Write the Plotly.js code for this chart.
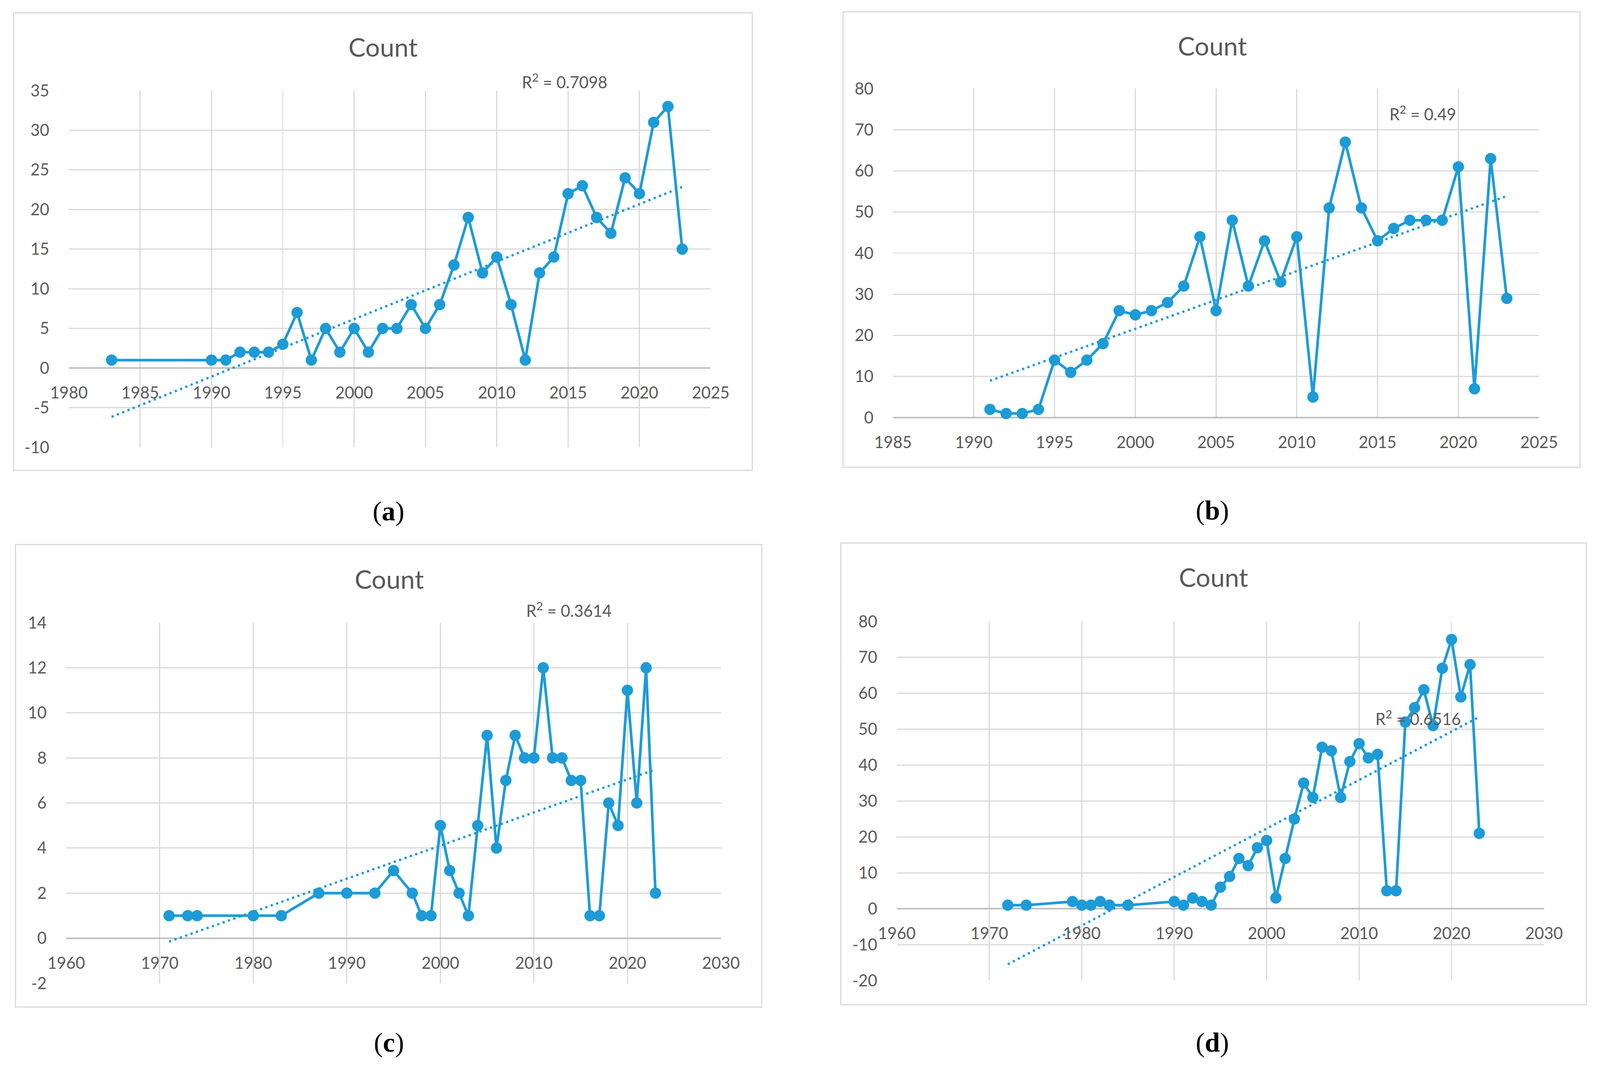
<!DOCTYPE html>
<html>
<head>
<meta charset="utf-8">
<script src="https://cdn.plot.ly/plotly-3.0.1.min.js"></script>
<style>
  html, body { margin: 0; padding: 0; background: #ffffff; overflow: hidden; }
  #chart { width: 100vw; height: 100vh; }
</style>
</head>
<body>
<div id="chart"></div>
<script>
// ---------- data ----------
const yearsA = [1983, 1990, 1991, 1992, 1993, 1994, 1995, 1996, 1997, 1998, 1999, 2000, 2001, 2002, 2003, 2004, 2005, 2006, 2007, 2008, 2009, 2010, 2011, 2012, 2013, 2014, 2015, 2016, 2017, 2018, 2019, 2020, 2021, 2022, 2023];
const countsA = [1, 1, 1, 2, 2, 2, 3, 7, 1, 5, 2, 5, 2, 5, 5, 8, 5, 8, 13, 19, 12, 14, 8, 1, 12, 14, 22, 23, 19, 17, 24, 22, 31, 33, 15];

const yearsB = [1991, 1992, 1993, 1994, 1995, 1996, 1997, 1998, 1999, 2000, 2001, 2002, 2003, 2004, 2005, 2006, 2007, 2008, 2009, 2010, 2011, 2012, 2013, 2014, 2015, 2016, 2017, 2018, 2019, 2020, 2021, 2022, 2023];
const countsB = [2, 1, 1, 2, 14, 11, 14, 18, 26, 25, 26, 28, 32, 44, 26, 48, 32, 43, 33, 44, 5, 51, 67, 51, 43, 46, 48, 48, 48, 61, 7, 63, 29];

const yearsC = [1971, 1973, 1974, 1980, 1983, 1987, 1990, 1993, 1995, 1997, 1998, 1999, 2000, 2001, 2002, 2003, 2004, 2005, 2006, 2007, 2008, 2009, 2010, 2011, 2012, 2013, 2014, 2015, 2016, 2017, 2018, 2019, 2020, 2021, 2022, 2023];
const countsC = [1, 1, 1, 1, 1, 2, 2, 2, 3, 2, 1, 1, 5, 3, 2, 1, 5, 9, 4, 7, 9, 8, 8, 12, 8, 8, 7, 7, 1, 1, 6, 5, 11, 6, 12, 2];

const yearsD = [1972, 1974, 1979, 1980, 1981, 1982, 1983, 1985, 1990, 1991, 1992, 1993, 1994, 1995, 1996, 1997, 1998, 1999, 2000, 2001, 2002, 2003, 2004, 2005, 2006, 2007, 2008, 2009, 2010, 2011, 2012, 2013, 2014, 2015, 2016, 2017, 2018, 2019, 2020, 2021, 2022, 2023];
const countsD = [1, 1, 2, 1, 1, 2, 1, 1, 2, 1, 3, 2, 1, 6, 9, 14, 12, 17, 19, 3, 14, 25, 35, 31, 45, 44, 31, 41, 46, 42, 43, 5, 5, 52, 56, 61, 51, 67, 75, 59, 68, 21];

// tick values (labels are written with a plain hyphen minus, as in the original)
const xTicksA = [1980, 1985, 1990, 1995, 2000, 2005, 2010, 2015, 2020, 2025];
const yTicksA = [-10, -5, 0, 5, 10, 15, 20, 25, 30, 35];
const xTicksB = [1985, 1990, 1995, 2000, 2005, 2010, 2015, 2020, 2025];
const yTicksB = [0, 10, 20, 30, 40, 50, 60, 70, 80];
const xTicksC = [1960, 1970, 1980, 1990, 2000, 2010, 2020, 2030];
const yTicksC = [-2, 0, 2, 4, 6, 8, 10, 12, 14];
const xTicksD = [1960, 1970, 1980, 1990, 2000, 2010, 2020, 2030];
const yTicksD = [-20, -10, 0, 10, 20, 30, 40, 50, 60, 70, 80];

const chartTitle = "Count";
const r2Labels = ["R<sup>2</sup> = 0.7098", "R<sup>2</sup> = 0.49", "R<sup>2</sup> = 0.3614", "R<sup>2</sup> = 0.6516"];
const panelLetters = ["a", "b", "c", "d"];

// ---------- geometry, given in pixels of a 4230x2739 page, scaled to the real viewport ----------
const REF_W = 4230, REF_H = 2739;
const W = window.innerWidth || REF_W;
const H = window.innerHeight || REF_H;
const s = Math.min(W / REF_W, H / REF_H);

const panels = [
  { years: yearsA, counts: countsA, xt: xTicksA, yt: yTicksA, plot: [182, 1879, 232, 1145],
    box: [36, 1989, 33, 1204], title: [1013, 119], r2: [1493, 208], label: [1027, 1308] },
  { years: yearsB, counts: countsB, xt: xTicksB, yt: yTicksB, plot: [2361, 4069, 227, 1069],
    box: [2229, 4177, 30, 1196], title: [3205, 116], r2: [3762, 289], label: [3205, 1306] },
  { years: yearsC, counts: countsC, xt: xTicksC, yt: yTicksC, plot: [175, 1906, 1594, 2517],
    box: [41, 2014, 1394, 2578], title: [1029, 1481], r2: [1504, 1560], label: [1028, 2668] },
  { years: yearsD, counts: countsD, xt: xTicksD, yt: yTicksD, plot: [2371, 4082, 1591, 2510],
    box: [2223, 4194, 1390, 2572], title: [3208, 1477], r2: [3749, 1837], label: [3205, 2668] }
];

const BLUE = "rgb(29,155,215)";
const GRID = "#d9d9d9";
const TXT = "#595959";
const FONT = "Lato, 'Open Sans', 'Liberation Sans', sans-serif";
const CLEAR = "rgba(0,0,0,0)";

function linfit(xs, ys) {
  const n = xs.length;
  const mx = xs.reduce((a, b) => a + b, 0) / n;
  const my = ys.reduce((a, b) => a + b, 0) / n;
  let sxy = 0, sxx = 0;
  for (let i = 0; i < n; i++) { sxy += (xs[i] - mx) * (ys[i] - my); sxx += (xs[i] - mx) * (xs[i] - mx); }
  const b = sxy / sxx, a = my - b * mx;
  const x0 = Math.min(...xs), x1 = Math.max(...xs);
  return { x: [x0, x1], y: [a + b * x0, a + b * x1] };
}

const px = X => X / REF_W;
const py = Y => 1 - Y / REF_H;

const data = [];
const layout = {
  width: W, height: H,
  margin: { l: 0, r: 0, t: 0, b: 0, pad: 0 },
  paper_bgcolor: "#ffffff",
  plot_bgcolor: "#ffffff",
  showlegend: false,
  font: { family: FONT, color: TXT },
  shapes: [],
  annotations: []
};

panels.forEach((p, i) => {
  const k = i === 0 ? "" : String(i + 1);
  const xa = "x" + k, ya = "y" + k;
  data.push({
    type: "scatter", mode: "lines+markers",
    x: p.years, y: p.counts, xaxis: xa, yaxis: ya,
    line: { color: BLUE, width: 7 * s },
    marker: { color: BLUE, size: 30 * s },
    cliponaxis: false, hoverinfo: "skip"
  });
  const t = linfit(p.years, p.counts);
  data.push({
    type: "scatter", mode: "lines",
    x: t.x, y: t.y, xaxis: xa, yaxis: ya,
    line: { color: BLUE, width: 6 * s, dash: (6 * s) + "px," + (9 * s) + "px" },
    cliponaxis: false, hoverinfo: "skip"
  });

  const xr = [p.xt[0], p.xt[p.xt.length - 1]];
  const yr = [p.yt[0], p.yt[p.yt.length - 1]];
  const yDom = [py(p.plot[3]), py(p.plot[2])];
  const zeroPos = yDom[0] + (0 - yr[0]) / (yr[1] - yr[0]) * (yDom[1] - yDom[0]);

  layout["xaxis" + k] = {
    domain: [px(p.plot[0]), px(p.plot[1])],
    range: xr, tickmode: "array", tickvals: p.xt, ticktext: p.xt.map(String),
    anchor: "free", position: zeroPos, side: "bottom",
    showgrid: true, gridcolor: GRID, gridwidth: 3 * s,
    zeroline: false, showline: false,
    ticks: "outside", ticklen: 28 * s, tickcolor: CLEAR, tickwidth: 1,
    tickfont: { family: FONT, size: 43 * s, color: TXT },
    fixedrange: true
  };
  layout["yaxis" + k] = {
    domain: yDom,
    range: yr, tickmode: "array", tickvals: p.yt, ticktext: p.yt.map(String),
    anchor: xa,
    showgrid: true, gridcolor: GRID, gridwidth: 3 * s,
    zeroline: true, zerolinecolor: "#bfbfbf", zerolinewidth: 4 * s,
    showline: false,
    ticks: "outside", ticklen: 42 * s, tickcolor: CLEAR, tickwidth: 1,
    tickfont: { family: FONT, size: 43 * s, color: TXT },
    fixedrange: true
  };

  layout.shapes.push({
    type: "rect", xref: "paper", yref: "paper",
    x0: px(p.box[0]), x1: px(p.box[1]), y0: py(p.box[3]), y1: py(p.box[2]),
    line: { color: GRID, width: 3 * s }, fillcolor: CLEAR, layer: "below"
  });

  layout.annotations.push({
    xref: "paper", yref: "paper", x: px(p.title[0]), y: py(p.title[1]),
    xanchor: "center", yanchor: "middle", showarrow: false,
    text: chartTitle, font: { family: FONT, size: 68 * s, color: TXT }
  });
  layout.annotations.push({
    xref: "paper", yref: "paper", x: px(p.r2[0]), y: py(p.r2[1]),
    xanchor: "center", yanchor: "middle", showarrow: false,
    text: r2Labels[i], font: { family: FONT, size: 43 * s, color: TXT }
  });
  layout.annotations.push({
    xref: "paper", yref: "paper", x: px(p.label[0]), y: py(p.label[1]),
    xanchor: "center", yanchor: "middle", showarrow: false,
    text: "(<b>" + panelLetters[i] + "</b>)",
    font: { family: "'Liberation Serif', 'DejaVu Serif', serif", size: 72 * s, color: "#000000" }
  });
});

Plotly.newPlot("chart", data, layout, { staticPlot: true, displayModeBar: false });
</script>
</body>
</html>
